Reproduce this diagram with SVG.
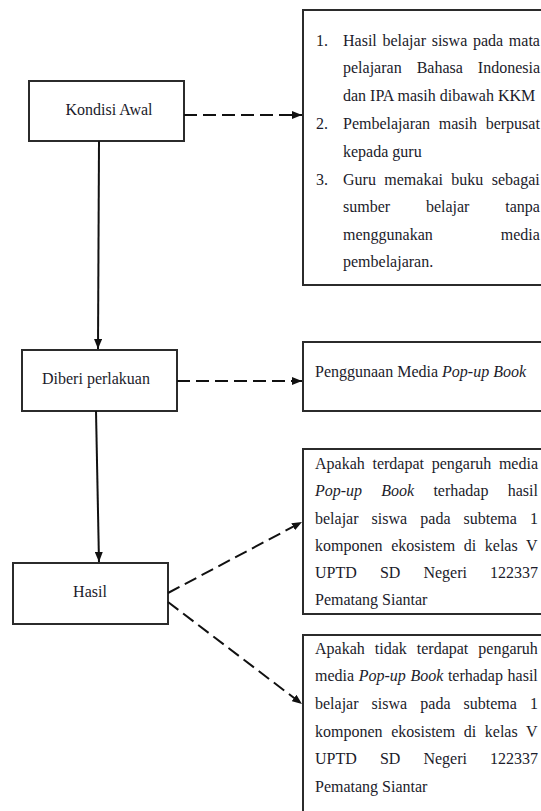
<svg xmlns="http://www.w3.org/2000/svg" width="541" height="811" viewBox="0 0 541 811">
<style>
  .box{fill:#fff;stroke:#2b2b2b;stroke-width:2}
  .t{font-family:"Liberation Serif","Times New Roman",serif;font-size:16px;fill:#1b1b2a}
  .c{text-anchor:middle}
  .i{font-style:italic}
  .solid{stroke:#111;stroke-width:2;fill:none}
  .dash{stroke:#111;stroke-width:2;fill:none;stroke-dasharray:13 6}
</style>
<defs>
  <marker id="ah" viewBox="0 0 10 8" refX="10" refY="4" markerWidth="10" markerHeight="8" markerUnits="userSpaceOnUse" orient="auto">
    <path d="M0,0 L10,4 L0,8 z" fill="#111"/>
  </marker>
</defs>
<rect width="541" height="811" fill="#fff"/>

<g id="kondisi-awal">
  <rect class="box" x="29" y="81" width="155" height="60"/>
  <text class="t c" x="109" y="115">Kondisi Awal</text>
</g>

<g id="kondisi-detail">
  <rect class="box" x="303" y="10" width="260" height="275"/>
  <text class="t" x="316" y="46">1.</text>
  <text class="t" x="343" y="46" word-spacing="1.7">Hasil belajar siswa pada mata</text>
  <text class="t" x="343" y="73" word-spacing="11">pelajaran Bahasa Indonesia</text>
  <text class="t" x="343" y="101">dan IPA masih dibawah KKM</text>
  <text class="t" x="316" y="129">2.</text>
  <text class="t" x="343" y="129" word-spacing="4.7">Pembelajaran masih berpusat</text>
  <text class="t" x="343" y="157">kepada guru</text>
  <text class="t" x="316" y="185">3.</text>
  <text class="t" x="343" y="185" word-spacing="4.4">Guru memakai buku sebagai</text>
  <text class="t" x="343" y="212" word-spacing="31.8">sumber belajar tanpa</text>
  <text class="t" x="343" y="240" word-spacing="64">menggunakan media</text>
  <text class="t" x="343" y="267">pembelajaran.</text>
</g>

<g id="diberi-perlakuan">
  <rect class="box" x="22" y="350" width="155" height="61"/>
  <text class="t c" x="96" y="384">Diberi perlakuan</text>
</g>

<g id="perlakuan-detail">
  <rect class="box" x="303" y="342" width="260" height="69"/>
  <text class="t" x="315" y="377">Penggunaan Media <tspan class="i">Pop-up Book</tspan></text>
</g>

<g id="hasil">
  <rect class="box" x="13" y="563" width="155" height="61"/>
  <text class="t c" x="90" y="597">Hasil</text>
</g>

<g id="hasil-1">
  <rect class="box" x="303" y="449" width="250" height="165"/>
  <text class="t" x="315" y="469" word-spacing="3.7">Apakah terdapat pengaruh media</text>
  <text class="t" x="315" y="496" word-spacing="15.2"><tspan class="i">Pop-up Book</tspan> terhadap hasil</text>
  <text class="t" x="315" y="524" word-spacing="9.1">belajar siswa pada subtema 1</text>
  <text class="t" x="315" y="551" word-spacing="4.6">komponen ekosistem di kelas V</text>
  <text class="t" x="315" y="578" word-spacing="19.1">UPTD SD Negeri 122337</text>
  <text class="t" x="315" y="605">Pematang Siantar</text>
</g>

<g id="hasil-2">
  <rect class="box" x="303" y="635" width="250" height="200"/>
  <text class="t" x="315" y="654" word-spacing="6">Apakah tidak terdapat pengaruh</text>
  <text class="t" x="315" y="681" word-spacing="0.6">media <tspan class="i">Pop-up Book</tspan> terhadap hasil</text>
  <text class="t" x="315" y="709" word-spacing="9.1">belajar siswa pada subtema 1</text>
  <text class="t" x="315" y="737" word-spacing="4.6">komponen ekosistem di kelas V</text>
  <text class="t" x="315" y="764" word-spacing="19.1">UPTD SD Negeri 122337</text>
  <text class="t" x="315" y="792">Pematang Siantar</text>
</g>

<g id="connectors">
  <line class="dash" x1="184" y1="115" x2="302" y2="115" marker-end="url(#ah)"/>
  <line class="dash" x1="177" y1="381" x2="302" y2="381" marker-end="url(#ah)"/>
  <line class="dash" x1="168" y1="593" x2="302" y2="522" marker-end="url(#ah)"/>
  <line class="dash" x1="168" y1="602" x2="302" y2="704" marker-end="url(#ah)"/>
  <line class="solid" x1="99" y1="141" x2="98" y2="349" marker-end="url(#ah)"/>
  <line class="solid" x1="96" y1="411" x2="99" y2="562" marker-end="url(#ah)"/>
</g>
</svg>
